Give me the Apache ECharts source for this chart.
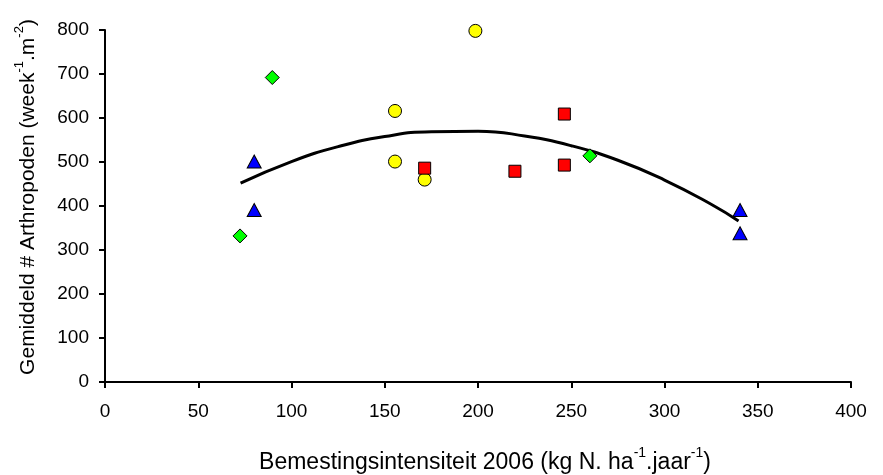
<!DOCTYPE html>
<html>
<head>
<meta charset="utf-8">
<script src="https://cdn.jsdelivr.net/npm/echarts@6/dist/echarts.min.js"></script>
<style>
  html, body { margin: 0; padding: 0; background: #fff; }
  #chart { width: 883px; height: 475px; }
</style>
</head>
<body>
<div id="chart"></div>
<script>
// Fertilisation intensity (kg N/ha/year) vs mean arthropod count per plot group
const triangleData = [[80, 501], [80, 391], [340.5, 391], [340.5, 338]];
const diamondData  = [[72.4, 332], [89.7, 692], [260, 514]];
const circleData   = [[198.6, 798], [155.5, 616], [155.5, 501], [171.4, 460]];
const squareData   = [[246.3, 609], [246.3, 493], [219.8, 479], [171.4, 486]];

// Polynomial trend line, read along its course
const trendX = [72.7, 100, 125, 150, 175, 200, 225, 250, 275, 300, 325, 339.7];
const trendY = [452, 501, 535, 558, 569, 570, 559, 537, 504, 459, 404, 366];

const xTicks = [0, 50, 100, 150, 200, 250, 300, 350, 400];
const yTicks = [0, 100, 200, 300, 400, 500, 600, 700, 800];

const FONT = '"Liberation Sans", Arial, sans-serif';
const chart = echarts.init(document.getElementById('chart'));

const markerStyle = (color) => ({ color: color, borderColor: '#000', borderWidth: 1, opacity: 1 });

const titleRich = (size, supSize) => ({
  t: { fontFamily: FONT, fontSize: size, color: '#000', lineHeight: size + 5, verticalAlign: 'bottom' },
  s: { fontFamily: FONT, fontSize: supSize, color: '#000', lineHeight: size + 5, verticalAlign: 'top' }
});

chart.setOption({
  animation: false,
  backgroundColor: '#fff',
  grid: { left: 105, right: 32, top: 30, bottom: 93, outerBoundsMode: 'none', containLabel: false },
  xAxis: {
    type: 'value',
    min: xTicks[0],
    max: xTicks[xTicks.length - 1],
    interval: 50,
    splitLine: { show: false },
    axisLine: { show: true, onZero: false, lineStyle: { color: '#000', width: 2 } },
    axisTick: { show: true, length: 6, lineStyle: { color: '#000', width: 2 } },
    axisLabel: { color: '#000', fontFamily: FONT, fontSize: 19, margin: 20 },
    name: '{t|Bemestingsintensiteit 2006 (kg N. ha}{s|-1}{t|.jaar}{s|-1}{t|)}',
    nameLocation: 'middle',
    nameGap: 64,
    nameTextStyle: { rich: titleRich(23, 14), padding: [0, 0, 0, 14] }
  },
  yAxis: {
    type: 'value',
    min: yTicks[0],
    max: yTicks[yTicks.length - 1],
    interval: 100,
    splitLine: { show: false },
    axisLine: { show: true, lineStyle: { color: '#000', width: 2 } },
    axisTick: { show: true, length: 6, lineStyle: { color: '#000', width: 2 } },
    axisLabel: { color: '#000', fontFamily: FONT, fontSize: 19, margin: 16 },
    name: '{t|Gemiddeld # Arthropoden (week}{s|-1}{t|.m}{s|-2}{t|)}',
    nameLocation: 'middle',
    nameRotate: 90,
    nameGap: 66,
    nameTextStyle: { rich: titleRich(21, 13), padding: [0, 0, 0, 18] }
  },
  series: [
    {
      name: 'trend',
      type: 'line',
      data: trendX.map((x, i) => [x, trendY[i]]),
      smooth: true,
      showSymbol: false,
      lineStyle: { color: '#000', width: 3 },
      z: 1
    },
    {
      name: 'triangle',
      type: 'scatter',
      symbol: 'triangle',
      symbolSize: [14, 13],
      data: triangleData,
      itemStyle: markerStyle('#0000ff'),
      z: 3
    },
    {
      name: 'diamond',
      type: 'scatter',
      symbol: 'diamond',
      symbolSize: 14,
      data: diamondData,
      itemStyle: markerStyle('#00ff00'),
      z: 3
    },
    {
      name: 'circle',
      type: 'scatter',
      symbol: 'circle',
      symbolSize: 13,
      data: circleData,
      itemStyle: markerStyle('#ffff00'),
      z: 3
    },
    {
      name: 'square',
      type: 'scatter',
      symbol: 'rect',
      symbolSize: 12,
      data: squareData,
      itemStyle: markerStyle('#ff0000'),
      z: 3
    }
  ]
});
</script>
</body>
</html>
